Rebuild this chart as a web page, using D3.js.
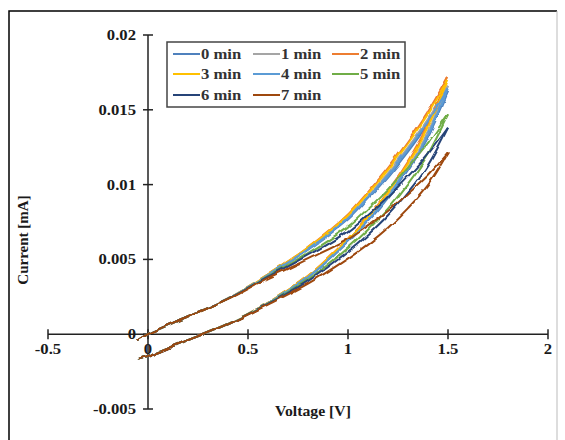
<!DOCTYPE html>
<html><head><meta charset="utf-8">
<script src="https://cdn.jsdelivr.net/npm/d3@7"></script>
<style>
html,body{margin:0;padding:0;background:#fff;}
text{font-family:"Liberation Serif","Times New Roman",serif;font-weight:bold;}
</style></head>
<body><svg id="chart" width="565" height="440"></svg>
<script>
// ---- data ----
const seriesNames = ["0 min","1 min","2 min","3 min","4 min","5 min","6 min","7 min"];
const seriesColors = ["#4f81bd","#a5a5a5","#ed7d31","#ffc000","#5b9bd5","#70ad47","#264478","#9e480e"];
const voltage = [-0.05, 0, 0.2, 0.4, 0.6, 0.8, 1.0, 1.1, 1.2, 1.3, 1.4, 1.5];
// forward sweep (upper branch), current in mA
const fwd0 = [-0.0004, 0, 0.0012, 0.0024, 0.00395, 0.00565, 0.00767, 0.00906, 0.01054, 0.01221, 0.01406, 0.0162];
const fwd1 = [-0.0004, 0, 0.0012, 0.0024, 0.00397, 0.00571, 0.00781, 0.00923, 0.01077, 0.01249, 0.01439, 0.0166];
const fwd2 = [-0.0004, 0, 0.0012, 0.0024, 0.0040, 0.0058, 0.0080, 0.0095, 0.0111, 0.0129, 0.0149, 0.0172];
const fwd3 = [-0.0004, 0, 0.0012, 0.0024, 0.0040, 0.00577, 0.00794, 0.00941, 0.01099, 0.01276, 0.01472, 0.0170];
const fwd4 = [-0.0004, 0, 0.0012, 0.0024, 0.00396, 0.00568, 0.00774, 0.00914, 0.01064, 0.01235, 0.01422, 0.0164];
const fwd5 = [-0.0004, 0, 0.0012, 0.00238, 0.00388, 0.00542, 0.00719, 0.0084, 0.0097, 0.01118, 0.0128, 0.0147];
const fwd6 = [-0.0004, 0, 0.0012, 0.00238, 0.00384, 0.00528, 0.00689, 0.008, 0.00919, 0.01055, 0.01204, 0.0138];
const fwd7 = [-0.0004, 0, 0.0012, 0.00236, 0.00376, 0.00502, 0.00634, 0.00724, 0.00824, 0.00938, 0.01061, 0.0121];
// reverse sweep (lower branch), same voltage points
const rev0 = [-0.0017, -0.0015, -0.0004, 0.0007, 0.00207, 0.0038, 0.00614, 0.00754, 0.00912, 0.01098, 0.01322, 0.0162];
const rev1 = [-0.0017, -0.0015, -0.0004, 0.0007, 0.00209, 0.00384, 0.00625, 0.00768, 0.00931, 0.01123, 0.01352, 0.0166];
const rev2 = [-0.0017, -0.0015, -0.0004, 0.0007, 0.0021, 0.0039, 0.0064, 0.0079, 0.0096, 0.0116, 0.0140, 0.0172];
const rev3 = [-0.0017, -0.0015, -0.0004, 0.0007, 0.0021, 0.00388, 0.00635, 0.00782, 0.0095, 0.01147, 0.01383, 0.0170];
const rev4 = [-0.0017, -0.0015, -0.0004, 0.0007, 0.00208, 0.00382, 0.00619, 0.0076, 0.00921, 0.0111, 0.01336, 0.0164];
const rev5 = [-0.0017, -0.0015, -0.0004, 0.0007, 0.00204, 0.00365, 0.00575, 0.00698, 0.00839, 0.01006, 0.01203, 0.0147];
const rev6 = [-0.0017, -0.0015, -0.0004, 0.00069, 0.00202, 0.00355, 0.00551, 0.00665, 0.00795, 0.00949, 0.01131, 0.0138];
const rev7 = [-0.0017, -0.0015, -0.0004, 0.00069, 0.00198, 0.00338, 0.00507, 0.00602, 0.00712, 0.00843, 0.00997, 0.0121];
const fwdSweeps = [fwd0, fwd1, fwd2, fwd3, fwd4, fwd5, fwd6, fwd7];
const revSweeps = [rev0, rev1, rev2, rev3, rev4, rev5, rev6, rev7];
const xTicks = [-0.5, 0, 0.5, 1, 1.5, 2];
const xTickLabels = ["-0.5", "0", "0.5", "1", "1.5", "2"];
const yTicks = [-0.005, 0, 0.005, 0.01, 0.015, 0.02];
const yTickLabels = ["-0.005", "0", "0.005", "0.01", "0.015", "0.02"];

// ---- drawing ----
const svg = d3.select("#chart");
const defs = svg.append("defs");
const flt = defs.append("filter").attr("id", "wave").attr("filterUnits", "userSpaceOnUse")
  .attr("x", 0).attr("y", 0).attr("width", 565).attr("height", 440)
  .attr("color-interpolation-filters", "sRGB");
flt.append("feTurbulence").attr("type", "fractalNoise").attr("baseFrequency", "0.08")
  .attr("numOctaves", 1).attr("seed", 5).attr("result", "noise");
flt.append("feDisplacementMap").attr("in", "SourceGraphic").attr("in2", "noise")
  .attr("scale", 5).attr("xChannelSelector", "R").attr("yChannelSelector", "G").attr("result", "disp");
flt.append("feGaussianBlur").attr("in", "disp").attr("stdDeviation", 0.35);

// outer frame
svg.append("path").attr("d","M9,445 L9,11 L557,11")
  .attr("fill","none").attr("stroke","#000").attr("stroke-width",1.5);
svg.append("line").attr("x1", 557).attr("x2", 557).attr("y1", 11).attr("y2", 440)
  .attr("stroke", "#bbb").attr("stroke-width", 1);

const x = d3.scaleLinear().domain([-0.5, 2]).range([48, 548]);
const y = d3.scaleLinear().domain([-0.005, 0.02]).range([409, 35]);
const axisColor = "#222";

function label(g, tx, ty, str, size, sx, anchor) {
  return g.append("text").attr("transform", `translate(${tx},${ty}) scale(${sx},1)`)
    .attr("text-anchor", anchor).attr("font-size", size).attr("fill", "#1a1a1a").text(str);
}

// x axis line at y=0
svg.append("line").attr("x1", x(-0.5)).attr("x2", x(2)).attr("y1", y(0)).attr("y2", y(0))
  .attr("stroke", axisColor).attr("stroke-width", 1.5);
svg.selectAll(".xt").data(xTicks).enter().append("line")
  .attr("x1", d => x(d)).attr("x2", d => x(d)).attr("y1", y(0) - 5).attr("y2", y(0) + 5)
  .attr("stroke", axisColor).attr("stroke-width", 1.5);
xTicks.forEach((d, i) => label(svg, x(d), y(0) + 20, xTickLabels[i], 14.5, 1.15, "middle"));

// y axis line at x=0
svg.append("line").attr("x1", x(0)).attr("x2", x(0)).attr("y1", y(-0.005)).attr("y2", y(0.02))
  .attr("stroke", axisColor).attr("stroke-width", 1.5);
svg.selectAll(".yt").data(yTicks).enter().append("line")
  .attr("x1", x(0) - 5).attr("x2", x(0) + 5).attr("y1", d => y(d)).attr("y2", d => y(d))
  .attr("stroke", axisColor).attr("stroke-width", 1.5);
yTicks.forEach((d, i) => label(svg, x(0) - 12, y(d) + 5, yTickLabels[i], 14.5, 1.15, "end"));

// axis titles
label(svg, 313, 416, "Voltage [V]", 15, 1.05, "middle");
svg.append("text").attr("transform", "translate(28,240) rotate(-90)").attr("text-anchor", "middle")
  .attr("font-size", 15).attr("fill", "#1a1a1a").text("Current [mA]");

// curves
const line = d3.line().x(d => x(d[0])).y(d => y(d[1])).curve(d3.curveCatmullRom);
const curves = svg.append("g").attr("filter", "url(#wave)");
seriesNames.forEach((name, i) => {
  const pts = voltage.map((v, k) => [v, fwdSweeps[i][k]]);
  const back = voltage.map((v, k) => [v, revSweeps[i][k]]).reverse();
  curves.append("path").attr("d", line(pts)).attr("fill", "none")
    .attr("stroke", seriesColors[i]).attr("stroke-width", 2);
  curves.append("path").attr("d", line(back)).attr("fill", "none")
    .attr("stroke", seriesColors[i]).attr("stroke-width", 2);
});

// legend
const lg = svg.append("g");
lg.append("rect").attr("x", 167).attr("y", 42).attr("width", 238).attr("height", 65)
  .attr("fill", "#fff").attr("stroke", "#444").attr("stroke-width", 1.5);
const colX = [173, 253, 332];
const rowY = [54, 74, 95];
seriesNames.forEach((name, i) => {
  const cx = colX[i % 3], cy = rowY[Math.floor(i / 3)];
  lg.append("line").attr("x1", cx).attr("x2", cx + 27).attr("y1", cy).attr("y2", cy)
    .attr("stroke", seriesColors[i]).attr("stroke-width", 2);
  label(lg, cx + 28, cy + 5, name, 14.5, 1.15, "start").attr("fill", "#333");
});
</script></body></html>
